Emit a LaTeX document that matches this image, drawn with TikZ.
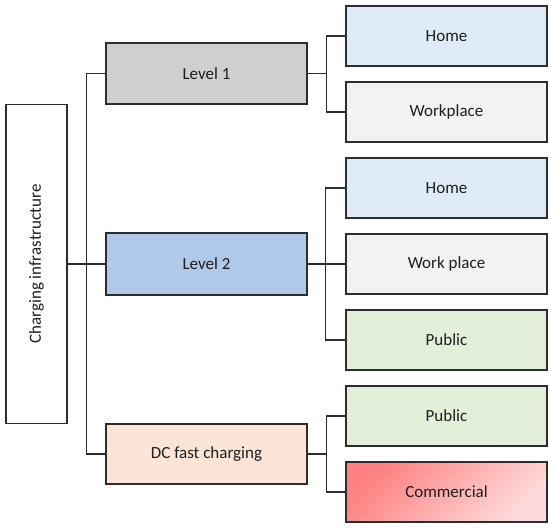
\documentclass[tikz,border=0pt]{standalone}
\usepackage{fontspec}
\setmainfont{Carlito}
\definecolor{lineC}{RGB}{45,45,45}
\definecolor{txtC}{RGB}{30,30,30}
\definecolor{lvA}{RGB}{208,206,206}
\definecolor{lvB}{RGB}{176,201,233}
\definecolor{lvC}{RGB}{252,229,214}
\definecolor{homeC}{RGB}{222,235,247}
\definecolor{workC}{RGB}{242,242,242}
\definecolor{pubC}{RGB}{226,240,217}
\definecolor{comA}{RGB}{255,128,128}
\definecolor{comB}{RGB}{255,218,218}
\begin{document}
\begin{tikzpicture}[x=1pt,y=-1pt,
  box/.style={draw=lineC, line width=1.3pt, inner sep=0pt, text=txtC,
    font=\fontsize{17}{20}\selectfont},
  mid/.style={box, minimum width=201pt, minimum height=61pt},
  leaf/.style={box, minimum width=201pt, minimum height=60pt},
  conn/.style={draw=lineC, line width=1.3pt}]
\useasboundingbox (0,0) rectangle (550,529);
\node[box, minimum width=61pt, minimum height=319pt] (root) at (36.5,264) {};
\node[rotate=90, text=txtC, font=\fontsize{17}{20}\selectfont] (rootlabel) at (root.center) {Charging infrastructure};
\node[mid, fill=lvA] (l1) at (206.5,73.5) {Level 1};
\node[mid, fill=lvB, minimum height=62pt] (l2) at (206.5,264) {Level 2};
\node[mid, fill=lvC, minimum height=60pt] (dc) at (206.5,454) {DC fast charging};
\node[leaf, fill=homeC] (h1) at (446.5,36) {Home};
\node[leaf, fill=workC] (w1) at (446.5,112) {Workplace};
\node[leaf, fill=homeC] (h2) at (446.5,188) {Home};
\node[leaf, fill=workC] (w2) at (446.5,264) {Work place};
\node[leaf, fill=pubC] (p2) at (446.5,340) {Public};
\node[leaf, fill=pubC] (p3) at (446.5,416) {Public};
\node[leaf, top color=comA, bottom color=comB, shading angle=45] (c3) at (446.5,492) {Commercial};
% root connectors
\draw[conn] (root.east) -- (l2.west);
\draw[conn] (l1.west) -- ++(-19,0) coordinate (busL) |- (dc.west);
% level 1 children
\draw[conn] (l1.east) -- ++(19,0) coordinate (j1);
\draw[conn] (h1.west) -| (j1) |- (w1.west);
% level 2 children
\draw[conn] (l2.east) -- (w2.west);
\draw[conn] (h2.west) -- ++(-20,0) coordinate (j2) |- (p2.west);
% DC children
\draw[conn] (dc.east) -- ++(19,0) coordinate (j3);
\draw[conn] (p3.west) -| (j3) |- (c3.west);
\end{tikzpicture}
\end{document}
